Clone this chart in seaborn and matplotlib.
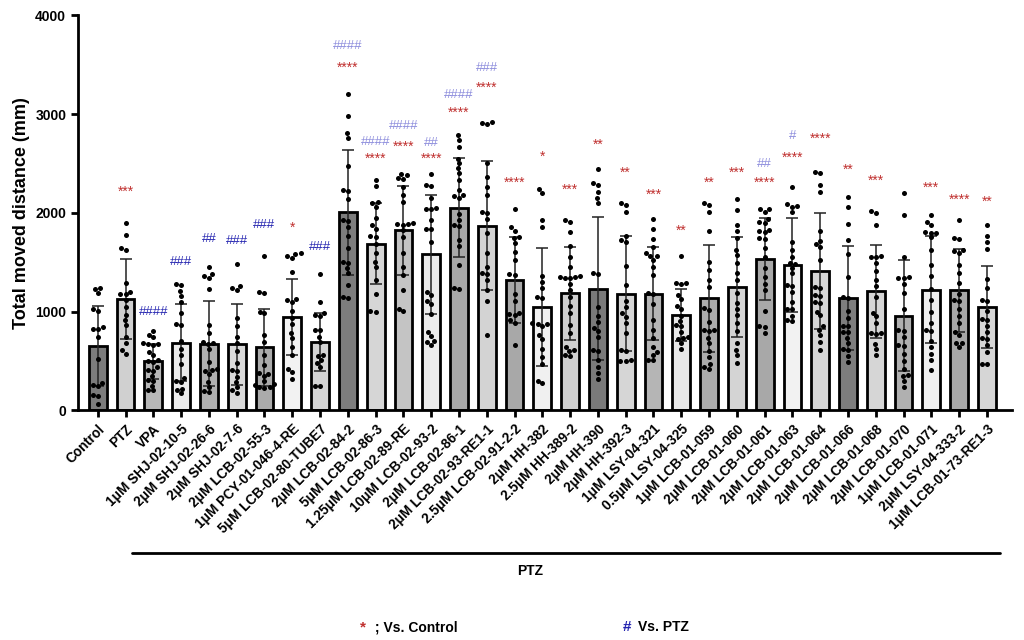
import numpy as np
import pandas as pd
import seaborn as sns
import matplotlib.pyplot as plt
from matplotlib.lines import Line2D

groups = ['Control', 'PTZ', 'VPA', '1μM SHJ-02-10-5', '2μM SHJ-02-26-6', '2μM SHJ-02-7-6',
          '2μM LCB-02-55-3', '1μM PCY-01-046-4-RE', '5μM LCB-02-80-TUBE7', '2μM LCB-02-84-2',
          '5μM LCB-02-86-3', '1.25μM LCB-02-89-RE', '10μM LCB-02-93-2', '2μM LCB-02-86-1',
          '2μM LCB-02-93-RE1-1', '2.5μM LCB-02-91-2-2', '2μM HH-382', '2.5μM HH-389-2',
          '2μM HH-390', '2μM HH-392-3', '1μM LSY-04-321', '0.5μM LSY-04-325', '1μM LCB-01-059',
          '2μM LCB-01-060', '2μM LCB-01-061', '2μM LCB-01-063', '2μM LCB-01-064',
          '2μM LCB-01-066', '2μM LCB-01-068', '2μM LCB-01-070', '1μM LCB-01-071',
          '2μM LSY-04-333-2', '1μM LCB-01-73-RE1-3']

means = [651, 1131, 496, 685, 675, 668, 638, 945, 692, 2005, 1688, 1823, 1580, 2053, 1870, 1320,
         1046, 1185, 1232, 1181, 1181, 965, 1134, 1249, 1532, 1468, 1411, 1137, 1205, 959, 1222,
         1215, 1046]
sds = [405, 405, 179, 388, 432, 412, 392, 389, 293, 631, 411, 449, 604, 502, 655, 432,
       598, 469, 726, 584, 473, 263, 544, 510, 419, 476, 587, 527, 469, 563, 543, 422, 412]

bar_colors = ['#7c7c7c', '#d0d0d0', '#b8b8b8', '#ececec', '#b0b0b0', '#d9d9d9', '#ababab',
              '#f2f2f2', '#d4d4d4', '#7d7d7d', '#d6d6d6', '#c4c4c4', '#ececec', '#a8a8a8',
              '#d3d3d3', '#a8a8a8', '#f0f0f0', '#cfcfcf', '#7a7a7a', '#d6d6d6', '#b5b5b5',
              '#e8e8e8', '#acacac', '#d4d4d4', '#a8a8a8', '#f2f2f2', '#d6d6d6', '#7d7d7d',
              '#d6d6d6', '#b0b0b0', '#f0f0f0', '#a8a8a8', '#d6d6d6']

# individual fish
dots = [
    [1240, 1230, 1190, 1030, 1010, 840, 820, 820, 740, 520, 280, 260, 250, 150, 140, 60],
    [1900, 1780, 1640, 1620, 1290, 1200, 1180, 1180, 1120, 1050, 960, 910, 860, 740, 680, 610, 570],
    [800, 760, 740, 680, 670, 670, 660, 590, 560, 510, 500, 490, 440, 410, 400, 350, 310, 300, 250, 210, 200],
    [1280, 1270, 1210, 1160, 1100, 980, 870, 860, 700, 620, 560, 470, 330, 300, 290, 220, 200, 170],
    [1450, 1380, 1360, 1340, 1230, 860, 780, 690, 680, 670, 620, 490, 420, 410, 400, 370, 290, 240, 190, 180],
    [1480, 1260, 1240, 1220, 930, 850, 740, 680, 600, 480, 410, 400, 340, 290, 240, 200, 170],
    [1560, 1200, 1190, 1000, 980, 760, 690, 560, 460, 380, 370, 350, 300, 270, 260, 240, 240, 230],
    [1590, 1580, 1560, 1540, 1400, 1100, 1130, 1120, 1010, 930, 870, 780, 730, 640, 560, 420, 390, 320],
    [1380, 1100, 980, 960, 950, 810, 810, 740, 690, 560, 550, 510, 480, 440, 250, 250],
    [3200, 2980, 2810, 2760, 2470, 2230, 2220, 2140, 1930, 1920, 1860, 1760, 1640, 1500, 1490, 1440, 1390, 1270, 1150, 1140],
    [2330, 2270, 2110, 2100, 2060, 1950, 1880, 1840, 1760, 1750, 1680, 1590, 1500, 1450, 1320, 1180, 1010, 1000],
    [2390, 2380, 2350, 2340, 2260, 2180, 2110, 1900, 1890, 1890, 1880, 1830, 1750, 1590, 1450, 1370, 1220, 1030, 1010],
    [2390, 2280, 2270, 2150, 2050, 2040, 2040, 1930, 1840, 1840, 1700, 1200, 1170, 1110, 1080, 970, 790, 750, 700, 690, 660],
    [2790, 2740, 2670, 2550, 2500, 2450, 2400, 2330, 2230, 2180, 2170, 2150, 1990, 1930, 1880, 1870, 1720, 1660, 1470, 1240, 1230],
    [2920, 2910, 2900, 2500, 2360, 2260, 2180, 2010, 2000, 1940, 1800, 1590, 1450, 1390, 1380, 1320, 1220, 1110, 760],
    [2040, 1860, 1820, 1750, 1740, 1690, 1600, 1520, 1380, 1370, 1180, 1110, 980, 970, 960, 910, 880, 660],
    [2240, 2200, 1930, 1860, 1360, 1300, 1240, 1150, 1140, 880, 870, 870, 850, 760, 720, 620, 540, 470, 300, 280],
    [1930, 1910, 1810, 1660, 1550, 1450, 1360, 1350, 1350, 1340, 1340, 1280, 1220, 1150, 1060, 980, 860, 780, 640, 610, 600, 560, 550],
    [2440, 2300, 2280, 2210, 2150, 2100, 1390, 1380, 1050, 950, 890, 830, 800, 740, 610, 600, 510, 440, 380, 320],
    [2100, 2080, 2010, 1760, 1720, 1700, 1460, 1270, 1110, 1050, 980, 940, 880, 780, 610, 600, 510, 500, 500],
    [1940, 1840, 1730, 1650, 1590, 1560, 1560, 1520, 1450, 1370, 1190, 1180, 1080, 910, 810, 730, 640, 590, 560, 510, 510],
    [1560, 1290, 1290, 1280, 1170, 1130, 1060, 1030, 950, 900, 860, 850, 790, 740, 730, 720, 680, 620],
    [2100, 2080, 2010, 1820, 1500, 1420, 1320, 1250, 1040, 1020, 890, 810, 810, 800, 730, 680, 600, 540, 470, 440, 420],
    [2140, 2030, 1880, 1820, 1740, 1620, 1570, 1490, 1390, 1320, 1190, 1090, 1030, 960, 880, 800, 680, 610, 560, 480],
    [2040, 2040, 2010, 1940, 1910, 1900, 1830, 1820, 1810, 1740, 1730, 1640, 1550, 1440, 1350, 1280, 1220, 1010, 850, 840, 780],
    [2260, 2090, 2070, 2060, 2010, 1700, 1620, 1550, 1490, 1480, 1440, 1390, 1270, 1260, 1200, 1100, 1030, 1030, 950, 910, 900],
    [2410, 2400, 2280, 2210, 1820, 1710, 1680, 1650, 1520, 1250, 1240, 1170, 1160, 1100, 1090, 1000, 960, 850, 810, 760, 690, 610],
    [2160, 2060, 1890, 1720, 1580, 1350, 1150, 1140, 1010, 930, 850, 850, 790, 790, 730, 680, 620, 610, 550, 490],
    [2020, 2000, 1880, 1560, 1550, 1550, 1490, 1410, 1320, 1260, 1150, 990, 950, 880, 780, 780, 770, 670, 620, 560],
    [2200, 1980, 1550, 1350, 1340, 1340, 1280, 1190, 1030, 810, 800, 740, 660, 650, 570, 500, 420, 360, 350, 300, 240],
    [1980, 1910, 1880, 1810, 1800, 1800, 1750, 1620, 1470, 1360, 1230, 1120, 1000, 880, 810, 800, 700, 640, 570, 510, 410],
    [1930, 1740, 1730, 1620, 1610, 1590, 1470, 1390, 1290, 1180, 1120, 1110, 1030, 950, 880, 790, 760, 680, 680, 640],
    [1880, 1760, 1700, 1630, 1330, 1240, 1120, 1110, 1010, 920, 910, 850, 790, 730, 720, 660, 590, 470, 470],
]

# significance marks: vs Control (stars) and vs PTZ (hashes)
star_idx = [1, 7, 9, 10, 11, 12, 13, 14, 15, 16, 17, 18, 19, 20, 21, 22, 23, 24, 25, 26, 27, 28, 30, 31, 32]
star_txt = ['***', '*', '****', '****', '****', '****', '****', '****', '****', '*', '***', '**', '**',
            '***', '**', '**', '***', '****', '****', '****', '**', '***', '***', '****', '**']
star_y = [2211, 1846, 3470, 2552, 2667, 2552, 3011, 3268, 2302, 2565, 2235, 2694, 2403,
          2184, 1816, 2309, 2403, 2302, 2559, 2754, 2437, 2326, 2258, 2133, 2113]
hash_idx = [2, 3, 4, 5, 6, 8, 9, 10, 11, 12, 13, 14, 24, 25]
hash_txt = ['####', '###', '##', '###', '###', '###', '####', '####', '####', '##', '####', '###', '##', '#']
hash_y = [1000, 1502, 1739, 1715, 1880, 1654, 3689, 2717, 2876, 2707, 3197, 3470, 2498, 2775]

star_color = '#c0302f'
hash_dark = '#2424b0'
hash_light = '#8c8cdc'

sns.set_theme(style='ticks')
plt.rcParams['font.family'] = ['Liberation Sans', 'DejaVu Sans']
plt.rcParams['font.weight'] = 'bold'
plt.rcParams['axes.labelweight'] = 'bold'
for k in ['text.color', 'axes.labelcolor', 'xtick.color', 'ytick.color']:
    plt.rcParams[k] = 'black'

bar_df = pd.DataFrame({'group': groups, 'mean': means})
dot_df = pd.DataFrame({'group': np.repeat(groups, [len(d) for d in dots]),
                       'value': np.concatenate(dots)})

fig = plt.figure(figsize=(10.24, 6.4), dpi=100)
ax = fig.add_axes([0.0762, 0.359, 0.912, 0.617])

sns.barplot(data=bar_df, x='group', y='mean', hue='group', order=groups, hue_order=groups,
            palette=bar_colors, saturation=1, width=0.64, edgecolor='black', linewidth=2,
            errorbar=None, legend=False, ax=ax, zorder=2)
ax.errorbar(np.arange(len(groups)), means, yerr=sds, fmt='none', ecolor='#222222',
            elinewidth=1.1, capsize=4, capthick=1.1, zorder=3)
sns.swarmplot(data=dot_df, x='group', y='value', order=groups, color='black', size=3.6,
              ax=ax, zorder=4)

for i, t, y in zip(star_idx, star_txt, star_y):
    ax.text(i, y, t, color=star_color, ha='center', va='center', fontsize=10, fontweight='normal')
for i, t, y in zip(hash_idx, hash_txt, hash_y):
    c = hash_dark if i < 9 else hash_light
    ax.text(i, y, t, color=c, ha='center', va='center', fontsize=9.5, fontweight='normal')

ax.set_xlim(-0.71, 32.9)
ax.set_ylim(0, 4000)
ax.set_yticks([0, 1000, 2000, 3000, 4000])
ax.set_xticks(np.arange(len(groups)))
ax.set_xticklabels(groups, rotation=45, ha='right', rotation_mode='anchor', fontsize=9.5)
ax.set_xlabel('')
ax.set_ylabel('Total moved distance (mm)', fontsize=13)
ax.tick_params(axis='both', width=2, length=5, labelsize=10, color='black')
ax.tick_params(axis='x', labelsize=9.8)
for s in ['left', 'bottom']:
    ax.spines[s].set_linewidth(2)
    ax.spines[s].set_color('black')
sns.despine(ax=ax)

fig.add_artist(Line2D([0.129, 0.977], [0.136, 0.136], color='black', lw=2))
fig.text(0.518, 0.108, 'PTZ', ha='center', va='center', fontsize=10)
fig.text(0.354, 0.020, '*', color=star_color, ha='center', va='center', fontsize=11)
fig.text(0.362, 0.020, ' ; Vs. Control', ha='left', va='center', fontsize=10)
fig.text(0.612, 0.020, '#', color=hash_dark, ha='center', va='center', fontsize=11)
fig.text(0.623, 0.020, 'Vs. PTZ', ha='left', va='center', fontsize=10)

fig.savefig('out.png', dpi=100)
